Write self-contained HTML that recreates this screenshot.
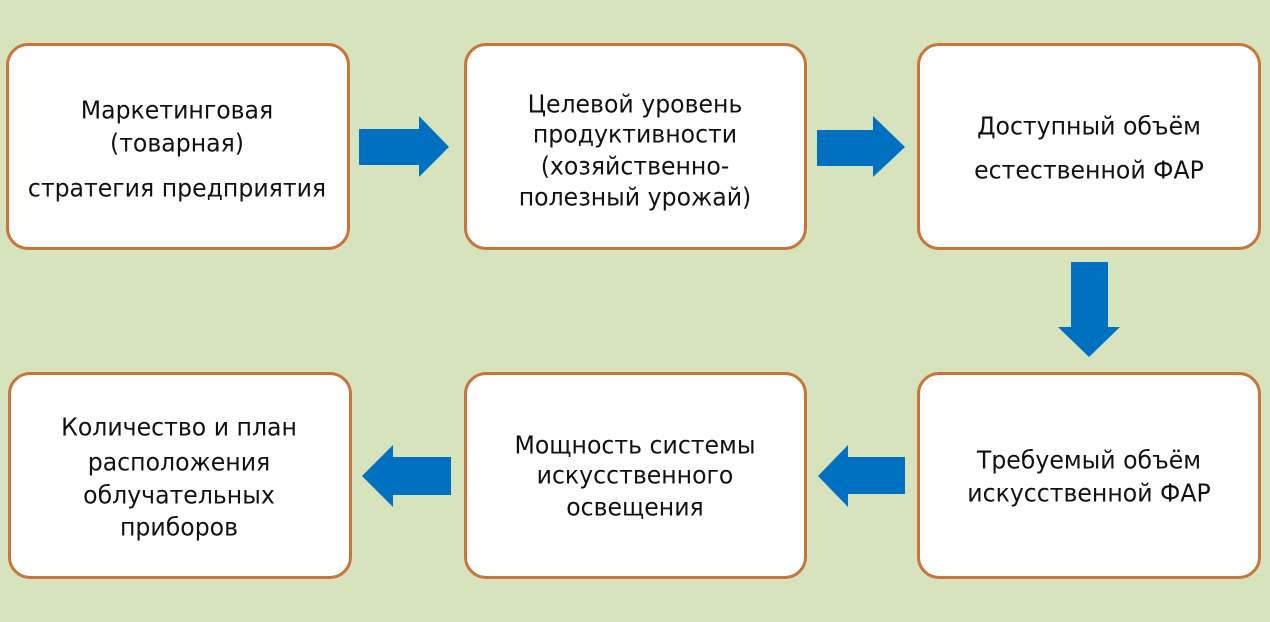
<!DOCTYPE html>
<html>
<head>
<meta charset="utf-8">
<style>
  html,body{margin:0;padding:0;}
  body{width:1270px;height:622px;background:#d7e3bd;position:relative;overflow:hidden;
       font-family:"DejaVu Sans","Liberation Sans",sans-serif;color:#111;}
  .box{position:absolute;box-sizing:border-box;background:#fff;border:3px solid #c8743a;border-radius:22px;}
  .t{position:absolute;width:340px;text-align:center;font-size:23.6px;line-height:30px;height:30px;white-space:nowrap;transform:scaleY(1.05);}
  svg{position:absolute;left:0;top:0;}
</style>
</head>
<body>
<div class="box" style="left:6px;top:43px;width:344px;height:207px;"></div>
<div class="box" style="left:464px;top:43px;width:343px;height:207px;"></div>
<div class="box" style="left:917px;top:43px;width:344px;height:207px;"></div>
<div class="box" style="left:917px;top:372px;width:344px;height:207px;"></div>
<div class="box" style="left:464px;top:372px;width:343px;height:207px;"></div>
<div class="box" style="left:8px;top:372px;width:344px;height:207px;"></div>

<svg width="1270" height="622" viewBox="0 0 1270 622">
  <g fill="#0070c0">
    <polygon points="359,129 419,129 419,116 449,147 419,177 419,165 359,165"/>
    <polygon points="817,130 873,130 873,116 905,147 873,177 873,166 817,166"/>
    <polygon points="1071,262 1108,262 1108,327 1120,327 1089,357 1058,327 1071,327"/>
    <polygon points="905,457 848,457 848,445 818,476 848,507 848,494 905,494"/>
    <polygon points="451,457 393,457 393,445 362,476 393,507 393,495 451,495"/>
  </g>
</svg>

<div class="t" style="left:7px;top:95px;">Маркетинговая</div>
<div class="t" style="left:7px;top:128px;">(товарная)</div>
<div class="t" style="left:7px;top:173px;">стратегия предприятия</div>

<div class="t" style="left:465px;top:89px;">Целевой уровень</div>
<div class="t" style="left:465px;top:119px;">продуктивности</div>
<div class="t" style="left:465px;top:151px;">(хозяйственно-</div>
<div class="t" style="left:465px;top:182px;">полезный урожай)</div>

<div class="t" style="left:919px;top:111px;">Доступный объём</div>
<div class="t" style="left:919px;top:155px;">естественной ФАР</div>

<div class="t" style="left:919px;top:445px;">Требуемый объём</div>
<div class="t" style="left:919px;top:478px;">искусственной ФАР</div>

<div class="t" style="left:465px;top:430px;">Мощность системы</div>
<div class="t" style="left:465px;top:460px;">искусственного</div>
<div class="t" style="left:465px;top:492px;">освещения</div>

<div class="t" style="left:9px;top:412px;">Количество и план</div>
<div class="t" style="left:9px;top:447px;">расположения</div>
<div class="t" style="left:9px;top:480px;">облучательных</div>
<div class="t" style="left:9px;top:512px;">приборов</div>
</body>
</html>
